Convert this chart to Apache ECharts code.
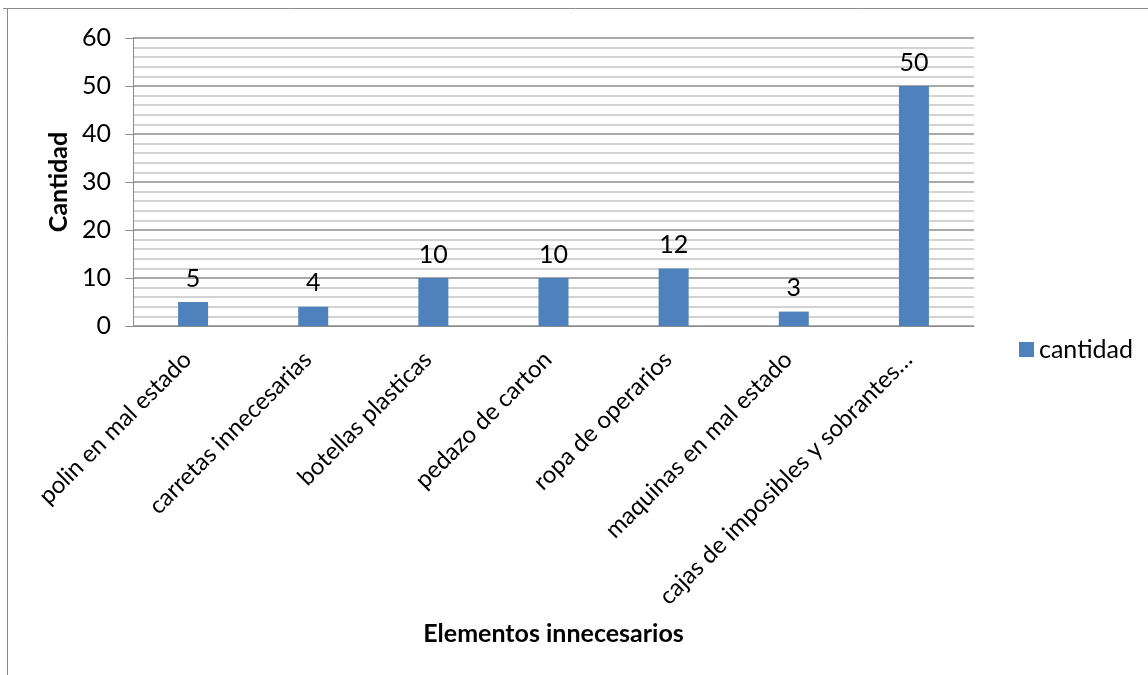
<!DOCTYPE html>
<html>
<head>
<meta charset="utf-8">
<script src="https://cdn.jsdelivr.net/npm/echarts@6/dist/echarts.min.js"></script>
<style>
  html, body { margin: 0; padding: 0; background: #fff; }
  #chart { width: 1148px; height: 675px; }
</style>
</head>
<body>
<div id="chart"></div>
<script>
// datos del grafico
const categorias = [
  'polin en mal estado',
  'carretas innecesarias',
  'botellas plasticas',
  'pedazo de carton',
  'ropa de operarios',
  'maquinas en mal estado',
  'cajas de imposibles y sobrantes…'
];
const cantidad = [5, 4, 10, 10, 12, 3, 50];
const serieNombre = 'cantidad';

const fuente = 'Lato, "Open Sans", sans-serif';

const myChart = echarts.init(document.getElementById('chart'));

const option = {
  animation: false,
  textStyle: { fontFamily: fuente },
  // marco del area del grafico (recortado arriba e izquierda)
  graphic: [
    { type: 'line', shape: { x1: 3, y1: 8.5, x2: 1148, y2: 8.5 }, style: { stroke: '#8c8c8c', lineWidth: 1 } },
    { type: 'line', shape: { x1: 7.5, y1: 8, x2: 7.5, y2: 675 }, style: { stroke: '#8c8c8c', lineWidth: 1 } }
  ],
  legend: {
    data: [serieNombre],
    left: 1014,
    top: 332,
    itemWidth: 15,
    itemHeight: 15,
    itemGap: 4,
    icon: 'rect',
    textStyle: { fontSize: 25, color: '#000', fontFamily: fuente }
  },
  grid: {
    left: 133,
    right: 174,
    top: 38,
    bottom: 349,
    containLabel: false
  },
  xAxis: {
    type: 'category',
    data: categorias,
    name: 'Elementos innecesarios',
    nameLocation: 'middle',
    nameGap: 295,
    nameTextStyle: { fontSize: 25, fontWeight: 'bold', color: '#000', fontFamily: fuente },
    axisLine: { lineStyle: { color: '#8c8c8c', width: 1 } },
    axisTick: { show: false },
    axisLabel: {
      interval: 0,
      rotate: 45,
      margin: 24,
      padding: [0, 8, 0, 0],
      fontSize: 24,
      color: '#000',
      fontFamily: fuente
    }
  },
  yAxis: {
    type: 'value',
    min: 0,
    max: 60,
    interval: 10,
    name: 'Cantidad',
    nameLocation: 'middle',
    nameGap: 58,
    nameRotate: 90,
    nameTextStyle: { fontSize: 25, fontWeight: 'bold', color: '#000', fontFamily: fuente },
    axisLine: { show: true, lineStyle: { color: '#8c8c8c', width: 1 } },
    axisTick: { show: true, length: 8, lineStyle: { color: '#8c8c8c' } },
    axisLabel: { fontSize: 25, color: '#000', margin: 22, fontFamily: fuente },
    splitLine: { show: true, lineStyle: { color: '#8c8c8c', width: 1.5 } },
    minorTick: { show: false, splitNumber: 5 },
    minorSplitLine: { show: true, lineStyle: { color: '#c4c4c4', width: 1.5 } }
  },
  series: [
    {
      name: serieNombre,
      type: 'bar',
      data: cantidad,
      barWidth: 30,
      itemStyle: { color: '#4f81bd' },
      label: {
        show: true,
        position: 'top',
        distance: 11,
        fontSize: 25,
        color: '#000',
        fontFamily: fuente
      }
    }
  ]
};

myChart.setOption(option);
</script>
</body>
</html>
